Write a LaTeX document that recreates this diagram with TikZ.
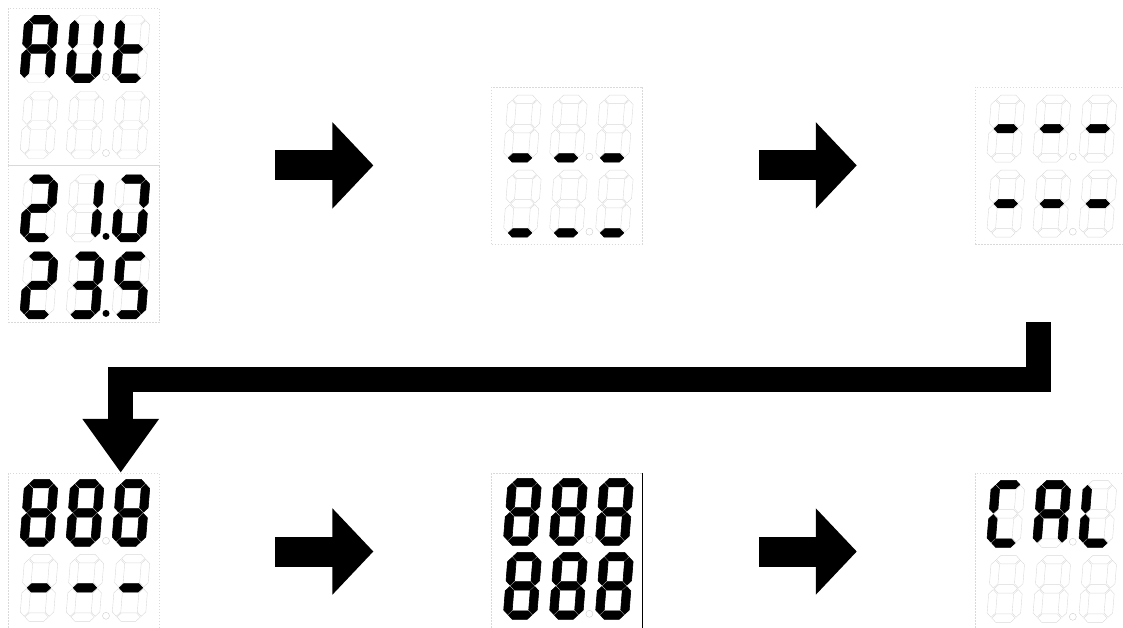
\documentclass[tikz,border=0pt]{standalone}
\usepackage{tikz}
\usetikzlibrary{positioning,arrows.meta}

\def\sega{(-11.7,-29.25) -- (-7.45,-33.5) -- (7.45,-33.5) -- (11.7,-29.25) -- (7.45,-25) -- (-7.45,-25) -- cycle}
\def\segb{(12.5,-28.45) -- (16.75,-24.2) -- (16.75,-5.05) -- (12.5,-0.8) -- (8.25,-5.05) -- (8.25,-24.2) -- cycle}
\def\segc{(12.5,0.8) -- (16.75,5.05) -- (16.75,24.2) -- (12.5,28.45) -- (8.25,24.2) -- (8.25,5.05) -- cycle}
\def\segd{(-11.7,29.25) -- (-7.45,25) -- (7.45,25) -- (11.7,29.25) -- (7.45,33.5) -- (-7.45,33.5) -- cycle}
\def\sege{(-12.5,0.8) -- (-8.25,5.05) -- (-8.25,24.2) -- (-12.5,28.45) -- (-16.75,24.2) -- (-16.75,5.05) -- cycle}
\def\segf{(-12.5,-28.45) -- (-8.25,-24.2) -- (-8.25,-5.05) -- (-12.5,-0.8) -- (-16.75,-5.05) -- (-16.75,-24.2) -- cycle}
\def\segg{(-11.7,0) -- (-7.45,-4.25) -- (7.45,-4.25) -- (11.7,0) -- (7.45,4.25) -- (-7.45,4.25) -- cycle}
\def\segx{}

\newcommand{\segdigit}[2]{%
  \begin{scope}[shift={#1}, xslant=0.08]
    \foreach \s in {a,b,c,d,e,f,g} \draw[ghost] \csname seg\s\endcsname;
    \foreach \s in {#2} \filldraw[lit] \csname seg\s\endcsname;
  \end{scope}}
\newcommand{\segrow}[6]{%
  \begin{scope}[shift={(#1.north west)}, shift={(31,#2)}]
    \segdigit{(0,0)}{#3}
    \segdigit{(46,0)}{#4}
    \segdigit{(92,0)}{#5}
    \path[#6] (67,28) circle (3.5);
  \end{scope}}

\begin{document}
\begin{tikzpicture}[x=1pt, y=-1pt,
  panel/.style={draw=gray!30, dash pattern=on 1.5pt off 1.5pt, line width=0.4pt, inner sep=0pt,
    minimum width=151pt, minimum height=157pt, anchor=north west},
  ghost/.style={draw=gray!30, line width=0.4pt},
  lit/.style={draw=black, fill=black, line width=0.6pt},
  dotoff/.style={draw=gray!40, line width=0.4pt},
  doton/.style={fill=black},
  blockarrow/.style={line width=30pt, -{Triangle[length=41pt, width=84pt]}, shorten <=116pt, shorten >=118pt},
  bendarrow/.style={line width=25pt, -{Triangle[length=54pt, width=73pt]}}]
\useasboundingbox (0,0) rectangle (1123,628);
\node[panel] (p1a) at (8,8) {};
\node[panel, below=0pt of p1a] (p1b) {};
\node[panel, right=332pt of p1a.south east] (p2) {};
\node[panel, right=332pt of p2] (p3) {};
\node[panel, below=150pt of p1b] (p4) {};
\node[panel, right=332pt of p4] (p5) {};
\node[panel, right=332pt of p5] (p6) {};
\draw[line width=0.8pt] (p5.north east) -- (p5.south east);

\segrow{p1a}{41}{a,b,c,e,f,g}{b,c,d,e,f}{d,e,f,g}{dotoff}
\segrow{p1a}{117}{x}{x}{x}{dotoff}
\segrow{p1b}{43}{a,b,d,e,g}{b,c}{a,b,c,d,e}{doton}
\segrow{p1b}{120}{a,b,d,e,g}{a,b,c,d,g}{a,c,d,f,g}{doton}
\segrow{p2}{42}{d}{d}{d}{dotoff}
\segrow{p2}{117}{d}{d}{d}{dotoff}
\segrow{p3}{42}{g}{g}{g}{dotoff}
\segrow{p3}{117}{g}{g}{g}{dotoff}
\segrow{p4}{40}{a,b,c,d,e,f,g}{a,b,c,d,e,f,g}{a,b,c,d,e,f,g}{dotoff}
\segrow{p4}{115}{g}{g}{g}{dotoff}
\segrow{p5}{39}{a,b,c,d,e,f,g}{a,b,c,d,e,f,g}{a,b,c,d,e,f,g}{dotoff}
\segrow{p5}{113}{a,b,c,d,e,f,g}{a,b,c,d,e,f,g}{a,b,c,d,e,f,g}{dotoff}
\segrow{p6}{41}{a,d,e,f}{a,b,c,e,f,g}{d,e,f}{dotoff}
\segrow{p6}{116}{x}{x}{x}{dotoff}

\draw[blockarrow] (p1a.south east) -- (p2.west);
\draw[blockarrow] (p2.east) -- (p3.west);
\draw[blockarrow] (p4.east) -- (p5.west);
\draw[blockarrow] (p5.east) -- (p6.west);
\coordinate (turn) at (1038,322);
\draw[bendarrow] (turn) -- ++(0,57.5) -| ([xshift=37pt]p4.north);
\end{tikzpicture}
\end{document}
